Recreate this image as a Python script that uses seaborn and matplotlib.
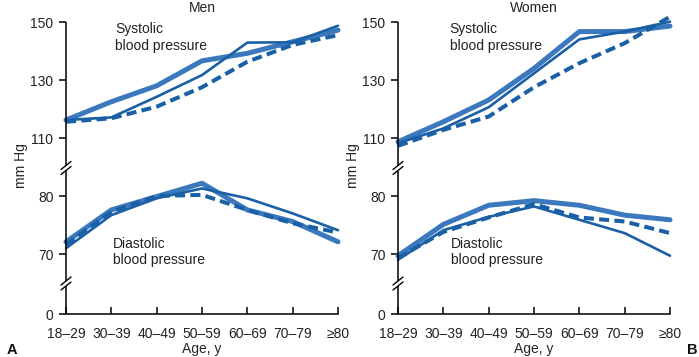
import numpy as np
import pandas as pd
import seaborn as sns
import matplotlib
matplotlib.use("Agg")
import matplotlib.pyplot as plt

# ---------------- data ----------------
ages = ["18–29", "30–39", "40–49", "50–59", "60–69", "70–79", "≥80"]
series_names = ["thick", "thin", "dashed"]

men_sys_thick = [116.2, 122.5, 128.0, 136.6, 139.2, 143.2, 147.2]
men_sys_thin = [116.2, 117.1, 124.2, 131.7, 142.9, 143.0, 148.7]
men_sys_dash = [115.6, 116.8, 120.8, 127.5, 136.3, 142.1, 145.5]
men_dia_thick = [72.1, 77.6, 79.9, 82.2, 77.6, 75.6, 72.1]
men_dia_thin = [71.0, 76.7, 79.6, 81.3, 79.6, 77.0, 74.1]
men_dia_dash = [71.6, 77.3, 80.0, 80.2, 77.6, 75.3, 73.7]

women_sys_thick = [108.7, 115.6, 123.1, 134.0, 146.7, 146.7, 148.6]
women_sys_thin = [108.2, 113.3, 120.6, 132.3, 144.0, 146.7, 150.1]
women_sys_dash = [107.3, 112.8, 117.4, 127.5, 135.8, 142.7, 151.8]
women_dia_thick = [69.7, 75.1, 78.4, 79.2, 78.4, 76.7, 75.9]
women_dia_thin = [69.0, 74.1, 76.4, 78.2, 75.9, 73.6, 69.7]
women_dia_dash = [69.3, 73.8, 76.3, 78.6, 76.3, 75.6, 73.6]

y_ticks = [0, 70, 80, 110, 130, 150]
panel_titles = ["Men", "Women"]
panel_letters = ["A", "B"]


def long_frame(sys_lists, dia_lists):
    rows = []
    for measure, lists in (("systolic", sys_lists), ("diastolic", dia_lists)):
        for name, vals in zip(series_names, lists):
            for i, (a, v) in enumerate(zip(ages, vals)):
                rows.append({"age": a, "x": i, "value": v,
                             "series": name, "measure": measure})
    return pd.DataFrame(rows)


men_df = long_frame([men_sys_thick, men_sys_thin, men_sys_dash],
                    [men_dia_thick, men_dia_thin, men_dia_dash])
women_df = long_frame([women_sys_thick, women_sys_thin, women_sys_dash],
                      [women_dia_thick, women_dia_thin, women_dia_dash])

# ---------------- style ----------------
sns.set_theme(style="ticks")
plt.rcParams["font.family"] = ["Liberation Sans", "DejaVu Sans"]
plt.rcParams["font.size"] = 10
plt.rcParams["text.color"] = "#222222"

FS = 10
light = "#3b78bd"
dark = "#1a60a6"
palette = {"thick": light, "thin": dark, "dashed": dark}
sizes = {"thick": 3.6, "thin": 1.9, "dashed": 2.9}
dashes = {"thick": "", "thin": "", "dashed": (2.5, 1.3)}

# broken axis: piecewise-linear scale (positions in px above the zero line)
knot_v = np.array([-100, 0, 65, 70, 80, 84, 104, 110, 130, 150, 160, 400])
knot_p = np.array([-86, 0, 31, 60, 118, 141.2, 158.6, 176, 234, 292, 321, 1017])


def fwd(v):
    return np.interp(v, knot_v, knot_p)


def inv(p):
    return np.interp(p, knot_p, knot_v)


FIG_W, FIG_H = 699, 357
fig = plt.figure(figsize=(FIG_W / 100, FIG_H / 100), dpi=100)

ymax = 152.0
ax_h_px = fwd(ymax) - fwd(0)
ax_w_px = 272
bottom_px = 357 - 314
lefts = [66, 398]

for k, (df, left) in enumerate(zip([men_df, women_df], lefts)):
    ax = fig.add_axes([left / FIG_W, bottom_px / FIG_H,
                       ax_w_px / FIG_W, ax_h_px / FIG_H])
    ax.set_yscale("function", functions=(fwd, inv))
    sns.lineplot(data=df, x="x", y="value", hue="series", size="series",
                 style="series", units="measure", estimator=None,
                 hue_order=series_names, size_order=series_names,
                 style_order=series_names, palette=palette, sizes=sizes,
                 dashes=dashes, legend=False, ax=ax, clip_on=False)
    ax.set_xlim(0, len(ages) - 1)
    ax.set_ylim(0, ymax)
    ax.set_xticks(range(len(ages)))
    ax.set_xticklabels(ages, fontsize=FS)
    ax.set_yticks(y_ticks)
    ax.set_yticklabels([str(t) for t in y_ticks], fontsize=FS)
    ax.tick_params(axis="x", direction="in", length=5, width=1.1,
                   pad=9, colors="black", labelcolor="#222222")
    ax.tick_params(axis="y", direction="out", length=5, width=1.1,
                   pad=4, colors="black", labelcolor="#222222")
    for s in ("top", "right", "left"):
        ax.spines[s].set_visible(False)
    ax.spines["bottom"].set_linewidth(1.1)
    ax.spines["bottom"].set_color("black")
    ax.set_xlabel("Age, y", fontsize=FS, labelpad=1)
    ax.set_ylabel("mm Hg", fontsize=FS, labelpad=2)
    ax.set_title(panel_titles[k], fontsize=FS, pad=3)

    # left spine drawn in pieces with break marks
    breaks = [30.5, 146.0]
    gap = 2.5
    segs = [0.0]
    for b in breaks:
        segs += [b - gap, b + gap]
    segs.append(fwd(150))
    for i in range(0, len(segs), 2):
        ax.plot([0, 0], [segs[i] / ax_h_px, segs[i + 1] / ax_h_px],
                transform=ax.transAxes, color="black", lw=1.1,
                clip_on=False, solid_capstyle="butt")
    for b in breaks:
        for c in (b - gap, b + gap):
            ax.plot([-5 / ax_w_px, 5 / ax_w_px],
                    [(c - 4) / ax_h_px, (c + 4) / ax_h_px],
                    transform=ax.transAxes, color="black", lw=1.0,
                    clip_on=False)

    # annotations
    xs = 0.18 if k == 0 else 0.19
    ax.text(xs, 0.98, "Systolic\nblood pressure", transform=ax.transAxes,
            ha="left", va="top", fontsize=10, linespacing=1.25)
    xd = 0.173 if k == 0 else 0.195
    ax.text(xd, 0.26, "Diastolic\nblood pressure", transform=ax.transAxes,
            ha="left", va="top", fontsize=10, linespacing=1.25)

fig.text(7 / FIG_W, 1 - 350 / FIG_H, panel_letters[0], fontsize=10.5,
         fontweight="bold", ha="left", va="center", color="#111111")
fig.text(697 / FIG_W, 1 - 350 / FIG_H, panel_letters[1], fontsize=10.5,
         fontweight="bold", ha="right", va="center", color="#111111")

fig.savefig("out.png", dpi=100)
